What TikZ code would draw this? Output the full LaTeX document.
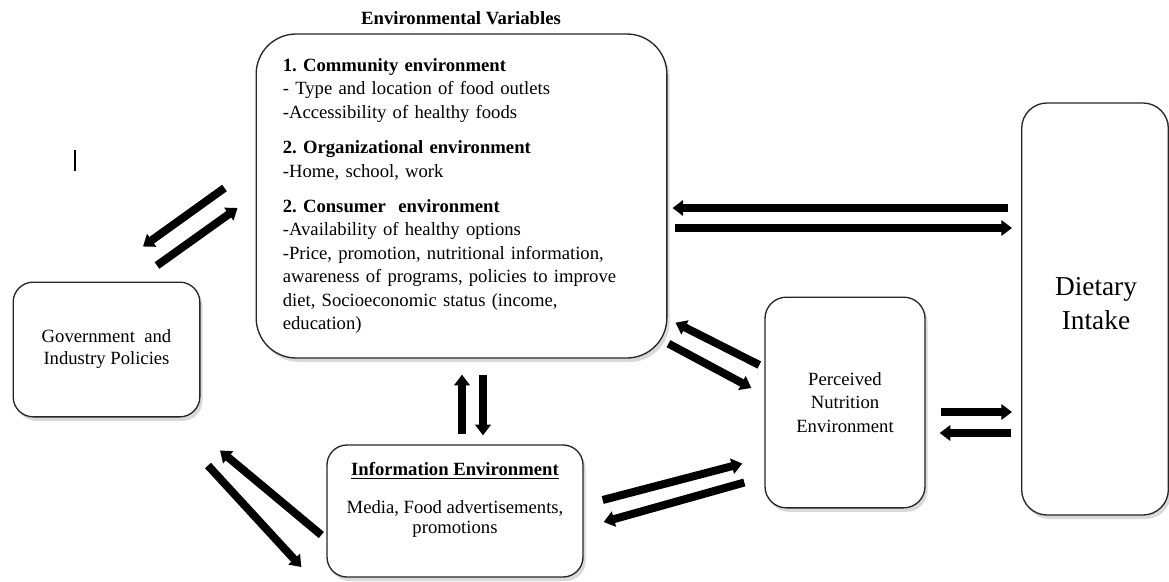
\documentclass[tikz,border=0pt]{standalone}
\usepackage{fontspec}
\setmainfont{Liberation Serif}
\usetikzlibrary{arrows.meta,shadows,calc}
\frenchspacing

\tikzset{
  envbox/.style={draw=black!85, line width=1pt, fill=white, rounded corners=#1,
    drop shadow={opacity=0.3, shadow xshift=2pt, shadow yshift=-3pt}},
  flow/.style={line width=6pt, -{Triangle[length=8pt,width=11.5pt]}},
  txt/.style={font=\fontsize{14}{17.6}\selectfont}
}

\begin{document}
\begin{tikzpicture}[x=0.75pt,y=0.75pt,yscale=-1,xscale=1]
\useasboundingbox (0,0) rectangle (1169,581);

%Title
\node[txt, font=\fontsize{14}{17.6}\selectfont\bfseries] (title) at (461,18) {Environmental Variables};

%Boxes
\node[envbox=30pt, txt, minimum width=308pt, minimum height=243pt, text width=268pt, inner xsep=20pt, align=left] (big) at (461.5,196) {%
\textbf{1. Community environment}\\
- Type and location of food outlets\\
-Accessibility of healthy foods\\[9pt]
\textbf{2. Organizational environment}\\
-Home, school, work\\[9pt]
\textbf{2. Consumer\ \ environment}\\
-Availability of healthy options\\
-Price, promotion, nutritional information,\\
awareness of programs, policies to improve\\
diet, Socioeconomic status (income,\\
education)};

\node[envbox=15pt, font=\fontsize{14}{16.5}\selectfont, minimum width=140pt, minimum height=101pt, align=center] (gov) at (106.5,349.5) {Government\ \ and\\Industry Policies};

\node[envbox=15pt, minimum width=192pt, minimum height=99pt] (info) at (455,511) {};
\node[font=\fontsize{14}{15}\selectfont, align=center] (infotext) at (455,500) {\underline{\textbf{Information Environment}}\\[13pt]Media, Food advertisements,\\promotions};

\node[envbox=16pt, txt, minimum width=120pt, minimum height=158pt, align=center] (perc) at (845,402.5) {Perceived\\Nutrition\\Environment};

\node[envbox=19pt, minimum width=110pt, minimum height=309pt] (diet) at (1095,309) {};
\node[font=\fontsize{20.5}{25.5}\selectfont, align=center] (diettext) at (1096,304) {Dietary\\Intake};

%stray mark
\draw[line width=0.8pt] (75,150) -- (75,171);

%Arrows
\draw[flow] ($(diet.west)+(-13,-101)$) -- ($(big.east)+(5,12)$);
\draw[flow] ($(big.east)+(7,32)$) -- ($(diet.west)+(-9,-81)$);
\draw[flow] ($(big.west)+(-31,-8)$) -- ($(gov.north)+(36.5,-35)$);
\draw[flow] ($(gov.north)+(50.5,-16)$) -- ($(big.west)+(-18,12)$);
\draw[flow] ($(info.north)+(7,-10)$) -- ($(big.south)+(0.5,16)$);
\draw[flow] ($(big.south)+(21.5,16)$) -- ($(info.north)+(28,-9)$);
\draw[flow] ($(perc.west)+(-5,-37.5)$) -- ($(big.south east)+(8,-36)$);
\draw[flow] ($(big.south east)+(1,-15)$) -- ($(perc.west)+(-13,-14.5)$);
\draw[flow] ($(perc.east)+(15,9.5)$) -- ($(diet.west)+(-9,103)$);
\draw[flow] ($(diet.west)+(-10,124)$) -- ($(perc.east)+(14,30.5)$);
\draw[flow] ($(info.east)+(19,-11)$) -- ($(perc.south west)+(-22,-45)$);
\draw[flow] ($(perc.south west)+(-20,-26)$) -- ($(info.east)+(20,11)$);
\draw[flow] ($(gov.south)+(101.5,48)$) -- ($(info.west)+(-25,56)$);
\draw[flow] ($(info.west)+(-5,24)$) -- ($(gov.south)+(113.5,33)$);

\end{tikzpicture}
\end{document}
